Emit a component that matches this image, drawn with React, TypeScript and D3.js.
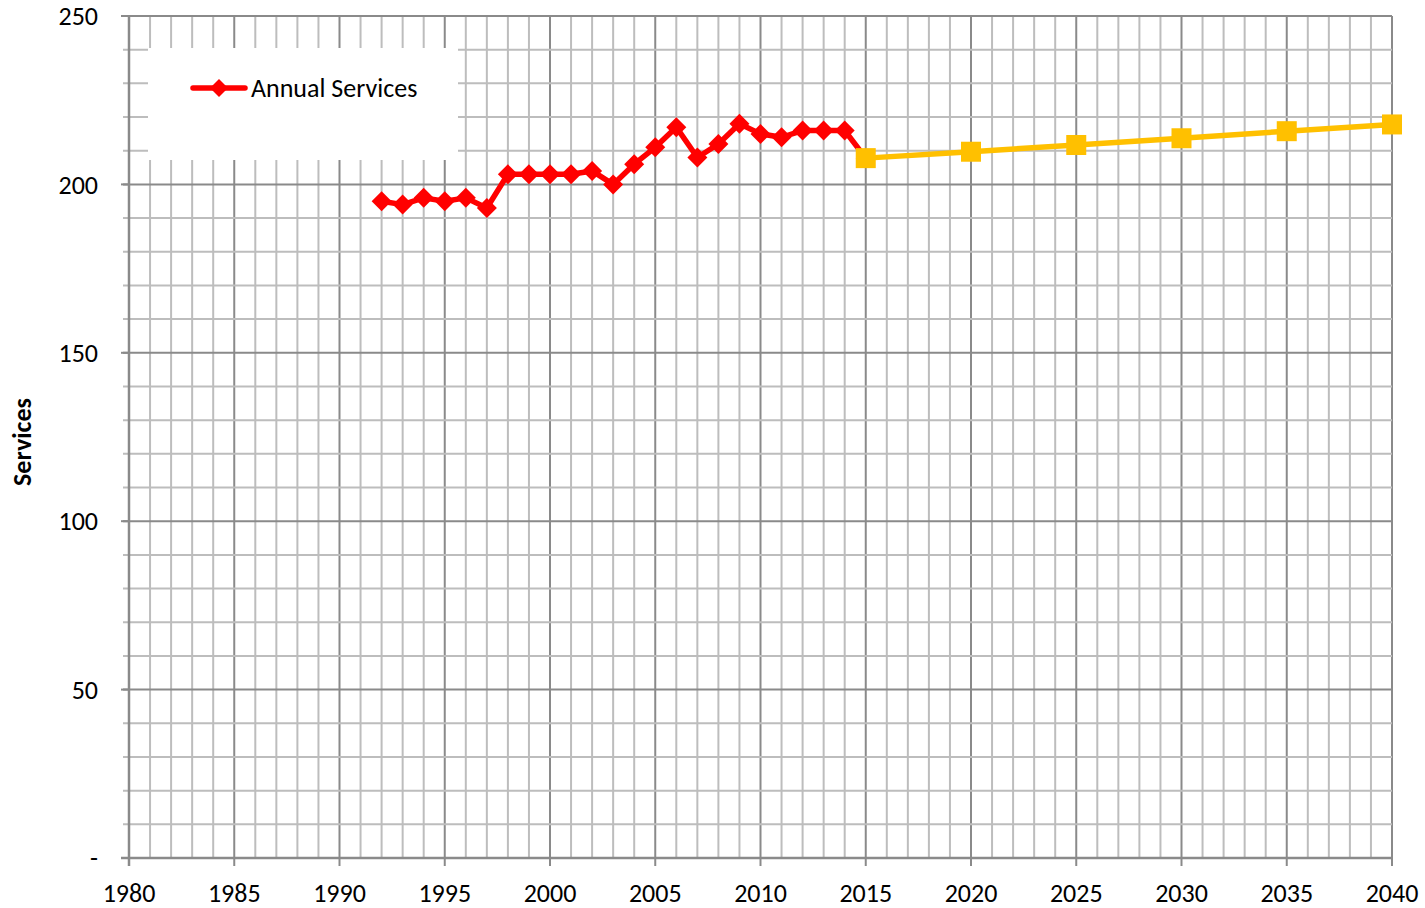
import React, { useRef, useEffect } from "react";
import * as d3 from "d3";

// Observed annual services (red) and projection (yellow)
const histYears = [1992, 1993, 1994, 1995, 1996, 1997, 1998, 1999, 2000, 2001, 2002, 2003, 2004, 2005, 2006, 2007, 2008, 2009, 2010, 2011, 2012, 2013, 2014, 2015];
const histValues = [195, 194, 196, 195, 196, 193, 203, 203, 203, 203, 204, 200, 206, 211, 217, 208, 212, 218, 215, 214, 216, 216, 216, 207.8];
const projYears = [2015, 2020, 2025, 2030, 2035, 2040];
const projValues = [207.8, 209.7, 211.7, 213.7, 215.8, 217.8];
const xTickLabels = [1980, 1985, 1990, 1995, 2000, 2005, 2010, 2015, 2020, 2025, 2030, 2035, 2040];
const yTickLabels = [0, 50, 100, 150, 200, 250];

const App = () => {
    const ref = useRef<SVGSVGElement>(null);

    useEffect(() => {
        const svg = d3.select(ref.current);
        svg.selectAll("*").remove();

        const width = 1425;
        const height = 908;
        const margin = { top: 16, right: 33, bottom: 50, left: 129 };
        const font = "Carlito, Calibri, 'Open Sans', sans-serif";

        svg.attr("width", width).attr("height", height).style("background", "#fff");

        const x = d3.scaleLinear().domain([1980, 2040]).range([margin.left, width - margin.right]);
        const y = d3.scaleLinear().domain([0, 250]).range([height - margin.bottom, margin.top]);

        const minorColor = "#bdbdbd";
        const majorColor = "#8a8a8a";

        // vertical gridlines: every year, darker every 5
        const g = svg.append("g");
        d3.range(1981, 2041).forEach(yr => {
            g.append("line")
                .attr("x1", x(yr)).attr("x2", x(yr))
                .attr("y1", y(0)).attr("y2", y(250))
                .attr("stroke", yr % 5 === 0 ? majorColor : minorColor)
                .attr("stroke-width", 2);
        });
        // horizontal gridlines: every 10, darker every 50
        d3.range(10, 251, 10).forEach(v => {
            g.append("line")
                .attr("x1", x(1980) - 6).attr("x2", x(2040))
                .attr("y1", y(v)).attr("y2", y(v))
                .attr("stroke", v % 50 === 0 ? majorColor : minorColor)
                .attr("stroke-width", 2);
        });
        // major y ticks
        yTickLabels.forEach(v => {
            g.append("line")
                .attr("x1", x(1980) - 8).attr("x2", x(1980))
                .attr("y1", y(v)).attr("y2", y(v))
                .attr("stroke", majorColor).attr("stroke-width", 2);
        });
        // x axis ticks
        xTickLabels.forEach(yr => {
            g.append("line")
                .attr("x1", x(yr)).attr("x2", x(yr))
                .attr("y1", y(0)).attr("y2", y(0) + 8)
                .attr("stroke", majorColor).attr("stroke-width", 2);
        });
        // axes
        g.append("line")
            .attr("x1", x(1980)).attr("x2", x(1980))
            .attr("y1", y(0) + 8).attr("y2", y(250))
            .attr("stroke", majorColor).attr("stroke-width", 2.5);
        g.append("line")
            .attr("x1", x(1980) - 8).attr("x2", x(2040))
            .attr("y1", y(0)).attr("y2", y(0))
            .attr("stroke", majorColor).attr("stroke-width", 2.5);

        // tick labels
        svg.append("g").selectAll("text")
            .data(yTickLabels)
            .enter()
            .append("text")
            .attr("x", 98)
            .attr("y", d => y(d))
            .attr("dy", "0.35em")
            .attr("text-anchor", "end")
            .style("font-family", font)
            .style("font-size", "26px")
            .text(d => (d === 0 ? "-" : d));

        svg.append("g").selectAll("text")
            .data(xTickLabels)
            .enter()
            .append("text")
            .attr("x", d => x(d))
            .attr("y", 902)
            .attr("text-anchor", "middle")
            .style("font-family", font)
            .style("font-size", "26px")
            .text(d => d);

        svg.append("text")
            .attr("transform", "rotate(-90)")
            .attr("x", -442)
            .attr("y", 31)
            .attr("text-anchor", "middle")
            .style("font-family", font)
            .style("font-size", "26px")
            .style("font-weight", "bold")
            .text("Services");

        // legend box
        svg.append("rect")
            .attr("x", 148).attr("y", 48)
            .attr("width", 310).attr("height", 112)
            .attr("fill", "#fff");

        const line = d3.line<number>()
            .x((d, i) => x(histYears[i]))
            .y(d => y(d));

        const red = "#ff0000";
        const yellow = "#ffc000";

        svg.append("path")
            .datum(histValues)
            .attr("fill", "none")
            .attr("stroke", red)
            .attr("stroke-width", 5.5)
            .attr("stroke-linejoin", "round")
            .attr("d", line);

        const diamond = (cx: number, cy: number, r: number) =>
            `M${cx},${cy - r}L${cx + r},${cy}L${cx},${cy + r}L${cx - r},${cy}Z`;

        svg.append("g").selectAll("path")
            .data(histValues)
            .enter()
            .append("path")
            .attr("d", (d, i) => diamond(x(histYears[i]), y(d), 10))
            .attr("fill", red);

        const projLine = d3.line<number>()
            .x((d, i) => x(projYears[i]))
            .y(d => y(d));

        svg.append("path")
            .datum(projValues)
            .attr("fill", "none")
            .attr("stroke", yellow)
            .attr("stroke-width", 5.5)
            .attr("d", projLine);

        svg.append("g").selectAll("rect")
            .data(projValues)
            .enter()
            .append("rect")
            .attr("x", (d, i) => x(projYears[i]) - 10)
            .attr("y", d => y(d) - 10)
            .attr("width", 20)
            .attr("height", 20)
            .attr("fill", yellow);

        // legend entry
        svg.append("line")
            .attr("x1", 193).attr("x2", 245)
            .attr("y1", 88).attr("y2", 88)
            .attr("stroke", red).attr("stroke-width", 5.5)
            .attr("stroke-linecap", "round");
        svg.append("path").attr("d", diamond(219, 88, 9)).attr("fill", red);
        svg.append("text")
            .attr("x", 251).attr("y", 88)
            .attr("dy", "0.35em")
            .style("font-family", font)
            .style("font-size", "26px")
            .text("Annual Services");
    }, []);

    return <svg ref={ref} style={{ display: "block", position: "absolute", left: 0, top: 0 }}></svg>;
};

export default App;
